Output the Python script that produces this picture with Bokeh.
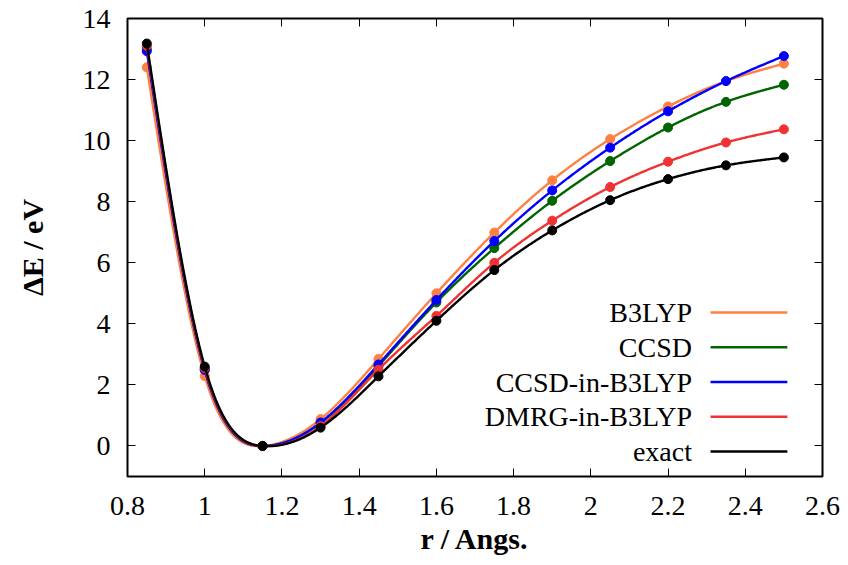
import numpy as np
from bokeh.plotting import figure
from bokeh.models import (Range1d, FixedTicker, LinearAxis, Label, CustomJSTickFormatter)
from bokeh.embed import file_html
from bokeh.resources import INLINE

# ---- data ----
r = [0.85, 1.0, 1.15, 1.3, 1.45, 1.6, 1.75, 1.9, 2.05, 2.2, 2.35, 2.5]
b3lyp = [12.40, 2.29, 0.0, 0.88, 2.85, 5.00, 6.99, 8.70, 10.05, 11.12, 11.95, 12.52]
ccsd = [13.00, 2.50, 0.0, 0.75, 2.62, 4.70, 6.48, 8.03, 9.33, 10.43, 11.27, 11.83]
ccsd_in_b3lyp = [12.93, 2.49, 0.0, 0.77, 2.67, 4.78, 6.71, 8.37, 9.77, 10.96, 11.95, 12.77]
dmrg_in_b3lyp = [13.10, 2.55, 0.0, 0.65, 2.50, 4.26, 6.00, 7.38, 8.48, 9.31, 9.94, 10.37]
exact = [13.18, 2.60, 0.0, 0.60, 2.28, 4.10, 5.76, 7.06, 8.05, 8.74, 9.19, 9.45]

series_names = ["B3LYP", "CCSD", "CCSD-in-B3LYP", "DMRG-in-B3LYP", "exact"]
series_values = [b3lyp, ccsd, ccsd_in_b3lyp, dmrg_in_b3lyp, exact]
series_colors = ["#ff8040", "#006400", "#0000ff", "#f03232", "#000000"]

x_ticks = [0.8, 1.0, 1.2, 1.4, 1.6, 1.8, 2.0, 2.2, 2.4, 2.6]
y_ticks = [0, 2, 4, 6, 8, 10, 12, 14]
x_title = "r / Angs."
y_title = "\u0394E / eV"


def natural_cspline(x, y, n=500):
    """Natural cubic spline through the points (like gnuplot 'smooth csplines')."""
    x = np.asarray(x, float)
    y = np.asarray(y, float)
    N = len(x)
    h = np.diff(x)
    A = np.zeros((N - 2, N - 2))
    rhs = np.zeros(N - 2)
    for i in range(N - 2):
        A[i, i] = 2 * (h[i] + h[i + 1])
        if i > 0:
            A[i, i - 1] = h[i]
        if i < N - 3:
            A[i, i + 1] = h[i + 1]
        rhs[i] = 6 * ((y[i + 2] - y[i + 1]) / h[i + 1] - (y[i + 1] - y[i]) / h[i])
    M = np.zeros(N)
    M[1:-1] = np.linalg.solve(A, rhs)
    xs = np.linspace(x[0], x[-1], n)
    idx = np.clip(np.searchsorted(x, xs) - 1, 0, N - 2)
    x0, x1 = x[idx], x[idx + 1]
    hh = x1 - x0
    a = (x1 - xs) / hh
    b = (xs - x0) / hh
    ys = (a * y[idx] + b * y[idx + 1]
          + ((a ** 3 - a) * M[idx] + (b ** 3 - b) * M[idx + 1]) * hh ** 2 / 6)
    return xs, ys


FONT = "Liberation Serif"
TICK_SIZE = "28px"
TITLE_SIZE = "30px"

p = figure(width=840, height=557, output_backend="svg", toolbar_location=None,
           x_range=Range1d(0.8, 2.6), y_range=Range1d(-1, 14),
           min_border_left=127, min_border_right=18, min_border_top=18,
           min_border_bottom=79)
p.grid.visible = False
p.outline_line_color = "black"
p.outline_line_width = 2
p.background_fill_color = "white"
p.border_fill_color = "white"

fmt = CustomJSTickFormatter(code="return String(Math.round(tick*10)/10);")
blank = CustomJSTickFormatter(code="return '';")

for ax in p.xaxis:
    ax.ticker = FixedTicker(ticks=x_ticks)
    ax.formatter = fmt
for ax in p.yaxis:
    ax.ticker = FixedTicker(ticks=y_ticks)

for ax in list(p.xaxis) + list(p.yaxis):
    ax.axis_line_color = None
    ax.major_tick_in = 8
    ax.major_tick_out = 0
    ax.minor_tick_line_color = None
    ax.major_tick_line_color = "black"
    ax.major_tick_line_width = 1
    ax.major_label_text_font = FONT
    ax.major_label_text_font_size = TICK_SIZE
    ax.major_label_text_color = "black"
    ax.axis_label_text_font = FONT
    ax.axis_label_text_font_size = TITLE_SIZE
    ax.axis_label_text_font_style = "bold"
    ax.axis_label_text_color = "black"

p.xaxis.axis_label = x_title
p.yaxis.axis_label = y_title
p.xaxis.major_label_standoff = 20
p.yaxis.major_label_standoff = 17
p.xaxis.axis_label_standoff = 4
p.yaxis.axis_label_standoff = 31

# mirror ticks (top and right)
top_ax = LinearAxis(ticker=FixedTicker(ticks=x_ticks), formatter=blank,
                    axis_line_color=None, major_tick_in=8, major_tick_out=0,
                    minor_tick_line_color=None, major_label_standoff=0)
right_ax = LinearAxis(ticker=FixedTicker(ticks=y_ticks), formatter=blank,
                      axis_line_color=None, major_tick_in=8, major_tick_out=0,
                      minor_tick_line_color=None, major_label_standoff=0)
p.add_layout(top_ax, "above")
p.add_layout(right_ax, "right")

for name, vals, col in zip(series_names, series_values, series_colors):
    xs, ys = natural_cspline(r, vals)
    p.line(xs, ys, line_color=col, line_width=2.4)
    p.scatter(r, vals, size=9, marker="circle", fill_color=col, line_color=col)

# gnuplot-style key (text left of sample line), bottom right
key_top = 4.37
key_step = 1.138
for i, (name, col) in enumerate(zip(series_names, series_colors)):
    yk = key_top - i * key_step
    p.segment(x0=[2.31], y0=[yk], x1=[2.509], y1=[yk], line_color=col, line_width=2.4)
    p.add_layout(Label(x=2.262, y=yk, text=name, text_align="right", text_baseline="middle",
                       text_font=FONT, text_font_size=TICK_SIZE, text_color="black"))

open("out.html", "w").write(file_html(p, INLINE))
